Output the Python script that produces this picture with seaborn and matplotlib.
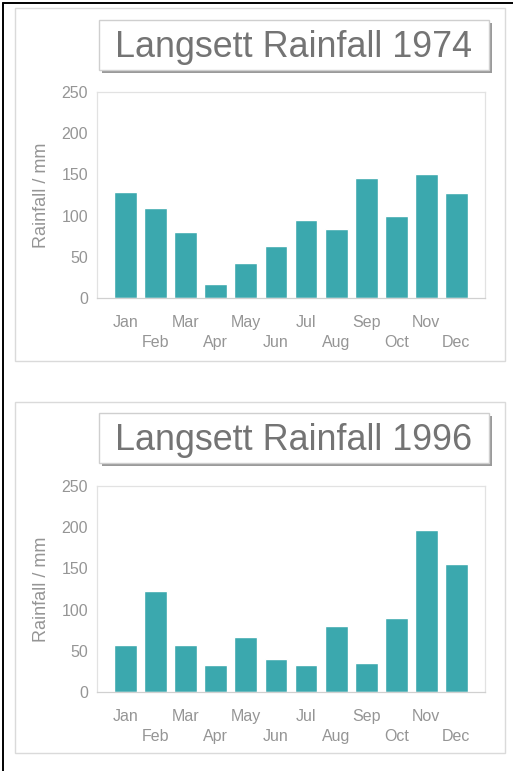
import matplotlib
matplotlib.use("Agg")
import matplotlib.pyplot as plt
from matplotlib.patches import Rectangle
from matplotlib.lines import Line2D
import seaborn as sns
import pandas as pd

# Monthly rainfall at Langsett (mm)
months = ["Jan", "Feb", "Mar", "Apr", "May", "Jun",
          "Jul", "Aug", "Sep", "Oct", "Nov", "Dec"]
rain_1974 = [129, 109, 80, 17, 43, 63, 95, 84, 146, 99, 150, 127]
rain_1996 = [57, 122, 57, 33, 67, 40, 33, 80, 35, 90, 196, 155]
y_ticks = [0, 50, 100, 150, 200, 250]
titles = ["Langsett Rainfall 1974", "Langsett Rainfall 1996"]
y_label = "Rainfall / mm"

BAR = "#3ba8ae"
TEXT = "#959595"
TITLE = "#747474"

sns.set_theme(style="white")
plt.rcParams["font.family"] = ["Liberation Sans", "DejaVu Sans"]

W, H = 513, 771
fig = plt.figure(figsize=(W / 100, H / 100), dpi=100)


def fx(px):
    return px / W


def fy(py):
    return 1 - py / H


def box(x0, y0, x1, y1, **kw):
    fig.add_artist(Rectangle((fx(x0), fy(y1)), fx(x1) - fx(x0), fy(y0) - fy(y1),
                             transform=fig.transFigure, **kw))


# page edges
fig.add_artist(Line2D([fx(3), fx(3)], [0, fy(3)], transform=fig.transFigure,
                      color="black", lw=1.4))
fig.add_artist(Line2D([fx(3), 1], [fy(3), fy(3)], transform=fig.transFigure,
                      color="black", lw=1.4))

panels = [
    dict(outer=(15, 8, 505, 361), tbox=(99, 20, 489, 70), base=57,
         axes=(97, 92, 485, 298), data=rain_1974, title=titles[0]),
    dict(outer=(15, 402, 505, 753), tbox=(99, 413, 489, 463), base=450,
         axes=(97, 486, 485, 692), data=rain_1996, title=titles[1]),
]

tick_labels = [m if i % 2 == 0 else "\n" + m for i, m in enumerate(months)]

for p in panels:
    # panel frame
    box(*p["outer"], facecolor="none", edgecolor="#dadada", lw=1.0, zorder=0)

    # title box with drop shadow
    x0, y0, x1, y1 = p["tbox"]
    box(x0 + 3, y0 + 3, x1 + 3, y1 + 3, facecolor="#9a9a9a", edgecolor="none", zorder=1)
    box(x0, y0, x1, y1, facecolor="white", edgecolor="#cfcfcf", lw=1.0, zorder=2)
    fig.text(fx(293.5), fy(p["base"]), p["title"], ha="center",
             va="baseline", fontsize=25.8, color=TITLE, zorder=3)

    # bar chart
    ax0, ay0, ax1, ay1 = p["axes"]
    ax = fig.add_axes([fx(ax0), fy(ay1), fx(ax1) - fx(ax0), fy(ay0) - fy(ay1)])
    df = pd.DataFrame({"month": months, "rain": p["data"]})
    sns.barplot(data=df, x="month", y="rain", color=BAR, saturation=1,
                width=0.76, ax=ax)
    ax.set_xlim(-0.95, 11.95)
    ax.set_ylim(0, 250)
    ax.set_yticks(y_ticks)
    ax.set_xticks(range(len(months)))
    ax.set_xticklabels(tick_labels)
    for lbl in ax.get_xticklabels():
        lbl.set_linespacing(1.4)
    ax.set_xlabel("")
    ax.set_ylabel(y_label, fontsize=13, color=TEXT)
    ax.yaxis.set_label_coords((42 - ax0) / (ax1 - ax0), 0.5)
    ax.yaxis.label.set_verticalalignment("center")
    ax.tick_params(axis="x", length=0, pad=12.5, labelsize=11.5, labelcolor=TEXT)
    ax.tick_params(axis="y", length=0, pad=6.5, labelsize=11.5, labelcolor=TEXT)
    for side, sp in ax.spines.items():
        sp.set_visible(True)
        sp.set_color("#e2e2e2")
        sp.set_linewidth(0.9)
    ax.spines["bottom"].set_color("#d0d0d0")
    ax.set_facecolor("white")

fig.savefig("out.png", dpi=100)
